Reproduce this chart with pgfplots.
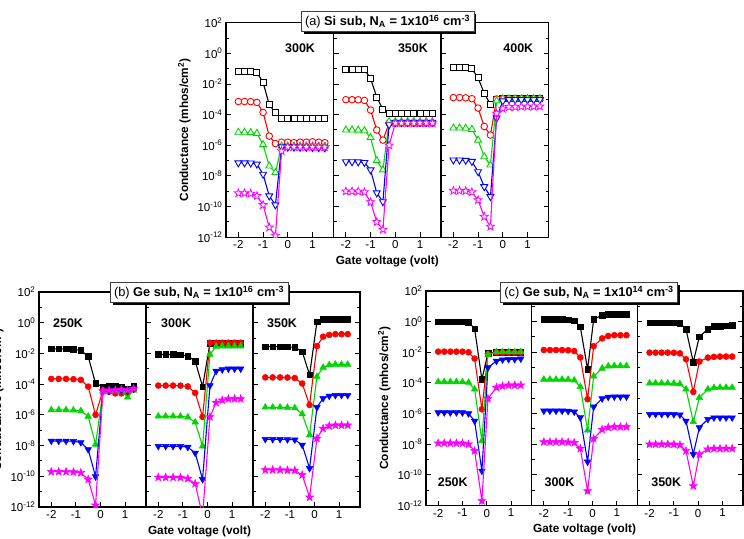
\documentclass[border=0pt]{standalone}
\usepackage{fontspec}
\setmainfont{Liberation Sans}
\usepackage{pgfplots}
\usepackage{pgfplotstable}
\pgfplotsset{compat=1.18}
\usetikzlibrary{shadows}

\definecolor{cRd}{RGB}{255,0,0}
\definecolor{cGr}{RGB}{0,215,0}
\definecolor{cBl}{RGB}{0,0,255}
\definecolor{cMg}{RGB}{255,0,255}

\newcommand\lblfont{\fontsize{11.8}{13}\selectfont\bfseries}
\newcommand\tickfont{\fontsize{11.5}{12}\selectfont}

% five-pointed outline star
\pgfdeclareplotmark{fivestar}{%
  \pgfpathmoveto{\pgfpointpolar{90}{\pgfplotmarksize}}%
  \pgfpathlineto{\pgfpointpolar{126}{0.42\pgfplotmarksize}}%
  \pgfpathlineto{\pgfpointpolar{162}{\pgfplotmarksize}}%
  \pgfpathlineto{\pgfpointpolar{198}{0.42\pgfplotmarksize}}%
  \pgfpathlineto{\pgfpointpolar{234}{\pgfplotmarksize}}%
  \pgfpathlineto{\pgfpointpolar{270}{0.42\pgfplotmarksize}}%
  \pgfpathlineto{\pgfpointpolar{306}{\pgfplotmarksize}}%
  \pgfpathlineto{\pgfpointpolar{342}{0.42\pgfplotmarksize}}%
  \pgfpathlineto{\pgfpointpolar{18}{\pgfplotmarksize}}%
  \pgfpathlineto{\pgfpointpolar{54}{0.42\pgfplotmarksize}}%
  \pgfpathclose
  \pgfusepathqfillstroke
}

% ---------------- data: conductance (mhos/cm^2) vs gate voltage (V)
% (a) Si substrate, N_A = 1e16
\pgfplotstableread{
x bk rd gr bl mg
-2 6.5e-2 7.2e-4 7.1e-6 7.2e-8 7.6e-10
-1.75 6.5e-2 7.2e-4 7.1e-6 7.2e-8 7.6e-10
-1.5 6.3e-2 7.1e-4 6.8e-6 7.0e-8 7.1e-10
-1.25 5.6e-2 6.3e-4 6.0e-6 6.0e-8 5.0e-10
-1 1.3e-2 1.4e-4 1.1e-6 1.3e-8 1.3e-10
-0.75 4.5e-4 4.0e-6 4.5e-8 5.0e-10 4.5e-12
-0.5 1.3e-4 1.3e-6 1.7e-8 1.3e-10 1.3e-12
-0.25 5.8e-5 1.6e-6 8.9e-7 7.9e-7 4.2e-7
0 5.8e-5 1.6e-6 8.9e-7 7.6e-7 7.9e-7
0.25 5.8e-5 1.5e-6 8.9e-7 7.6e-7 7.9e-7
0.5 5.8e-5 1.6e-6 8.9e-7 7.4e-7 7.9e-7
0.75 5.8e-5 1.6e-6 8.9e-7 7.4e-7 7.9e-7
1 5.8e-5 1.7e-6 8.9e-7 7.2e-7 7.9e-7
1.25 5.8e-5 1.6e-6 8.9e-7 7.0e-7 7.9e-7
1.5 5.8e-5 1.5e-6 8.9e-7 6.9e-7 7.6e-7
}\Aone
\pgfplotstableread{
x bk rd gr bl mg
-2 9.5e-2 9.5e-4 1.0e-5 8.5e-8 1.0e-9
-1.75 9.5e-2 9.5e-4 1.0e-5 8.5e-8 1.0e-9
-1.5 9.3e-2 9.3e-4 9.8e-6 8.3e-8 9.8e-10
-1.25 8.9e-2 8.5e-4 8.9e-6 7.6e-8 8.9e-10
-1 2.3e-2 2.0e-4 3.2e-6 2.5e-8 2.0e-10
-0.75 1.35e-3 1.0e-5 1.0e-7 7.9e-10 1.0e-11
-0.5 2.2e-4 2.2e-6 2.5e-8 2.1e-10 3.2e-12
-0.25 1.2e-4 2.8e-5 3.5e-5 2.2e-5 1.0e-6
0 1.2e-4 2.8e-5 3.5e-5 3.2e-5 2.8e-5
0.25 1.2e-4 2.8e-5 3.5e-5 3.2e-5 2.8e-5
0.5 1.2e-4 2.8e-5 3.5e-5 3.2e-5 2.8e-5
0.75 1.2e-4 2.8e-5 3.5e-5 3.2e-5 2.8e-5
1 1.2e-4 2.8e-5 3.5e-5 3.2e-5 2.8e-5
1.25 1.2e-4 2.8e-5 3.5e-5 3.2e-5 2.8e-5
1.5 1.2e-4 2.8e-5 3.5e-5 3.2e-5 2.8e-5
}\Atwo
\pgfplotstableread{
x bk rd gr bl mg
-2 1.23e-1 1.3e-3 1.35e-5 1.1e-7 1.1e-9
-1.75 1.23e-1 1.3e-3 1.35e-5 1.1e-7 1.1e-9
-1.5 1.2e-1 1.25e-3 1.3e-5 1.05e-7 1.05e-9
-1.25 1.0e-1 1.1e-3 1.1e-5 8.9e-8 8.9e-10
-1 2.5e-2 2.7e-4 2.2e-6 1.9e-8 2.7e-10
-0.75 2.5e-3 1.7e-5 1.8e-7 2.0e-9 2.2e-11
-0.5 4.5e-4 4.7e-6 5.2e-8 4.5e-10 5.0e-12
-0.25 1.0e-3 1.05e-3 7.9e-4 6.0e-5 1.2e-4
0 1.1e-3 1.1e-3 1.1e-3 7.9e-4 2.5e-4
0.25 1.1e-3 1.1e-3 1.1e-3 9.5e-4 3.2e-4
0.5 1.1e-3 1.1e-3 1.1e-3 9.5e-4 3.2e-4
0.75 1.1e-3 1.1e-3 1.1e-3 9.5e-4 3.4e-4
1 1.1e-3 1.1e-3 1.1e-3 9.5e-4 3.4e-4
1.25 1.1e-3 1.1e-3 1.1e-3 9.5e-4 3.4e-4
1.5 1.1e-3 1.1e-3 1.1e-3 9.5e-4 3.5e-4
}\Athree
% (b) Ge substrate, N_A = 1e16
\pgfplotstableread{
x bk rd gr bl mg
-2 2.0e-2 2.2e-4 2.1e-6 2.0e-8 2.0e-10
-1.7 2.0e-2 2.2e-4 2.1e-6 2.0e-8 2.0e-10
-1.4 2.0e-2 2.2e-4 2.1e-6 2.0e-8 2.0e-10
-1.1 1.8e-2 2.1e-4 2.0e-6 1.9e-8 1.9e-10
-0.8 1.6e-2 1.9e-4 1.8e-6 1.6e-8 1.7e-10
-0.5 6.3e-3 6.9e-5 7.9e-7 5.6e-9 6.3e-11
-0.2 1.1e-4 1.0e-6 1.2e-8 9.5e-11 1.3e-12
0.1 6.9e-5 4.0e-5 3.5e-5 3.5e-5 3.5e-5
0.35 7.0e-5 3.2e-5 3.5e-5 3.5e-5 4.0e-5
0.6 7.0e-5 2.5e-5 3.2e-5 4.0e-5 4.0e-5
0.85 6.5e-5 2.5e-5 3.5e-5 4.0e-5 4.5e-5
1.1 5.0e-5 2.8e-5 1.4e-5 3.5e-5 4.0e-5
1.35 8.0e-5 4.5e-5 4.0e-5 5.0e-5 5.0e-5
}\Bone
\pgfplotstableread{
x bk rd gr bl mg
-2 8.5e-3 8.1e-5 8.1e-7 9.1e-9 8.5e-11
-1.7 8.5e-3 8.1e-5 8.1e-7 9.1e-9 8.5e-11
-1.4 8.5e-3 8.1e-5 8.1e-7 9.1e-9 8.5e-11
-1.1 8.3e-3 8.0e-5 8.0e-7 9.0e-9 8.3e-11
-0.8 6.8e-3 7.1e-5 7.1e-7 7.9e-9 7.1e-11
-0.5 3.2e-3 2.7e-5 3.3e-7 3.3e-9 3.3e-11
-0.2 6.8e-5 7.4e-7 9.1e-9 6.3e-11 2.5e-13
0.1 4.5e-2 5.0e-2 8.5e-3 8.1e-5 7.4e-7
0.35 4.8e-2 5.0e-2 2.8e-2 7.1e-4 6.3e-6
0.6 4.8e-2 5.0e-2 3.0e-2 8.9e-4 8.9e-6
0.85 4.8e-2 5.0e-2 3.0e-2 1.0e-3 1.1e-5
1.1 4.8e-2 5.0e-2 3.0e-2 1.0e-3 1.1e-5
1.35 4.8e-2 5.0e-2 3.0e-2 1.0e-3 1.1e-5
}\Btwo
\pgfplotstableread{
x bk rd gr bl mg
-2 2.75e-2 2.75e-4 3.1e-6 2.6e-8 2.6e-10
-1.7 2.75e-2 2.75e-4 3.1e-6 2.6e-8 2.6e-10
-1.4 2.75e-2 2.75e-4 3.1e-6 2.6e-8 2.6e-10
-1.1 2.7e-2 2.7e-4 3.0e-6 2.5e-8 2.5e-10
-0.8 2.5e-2 2.5e-4 2.8e-6 2.4e-8 2.4e-10
-0.5 1.3e-2 1.1e-4 1.15e-6 1.1e-8 1.23e-10
-0.2 4.0e-4 4.4e-6 4.9e-8 3.3e-10 4.3e-12
0.1 1.17 3.0e-2 3.1e-4 3.1e-6 2.95e-8
0.35 1.66 1.23e-1 1.23e-3 1.2e-5 1.3e-7
0.6 1.66 1.6e-1 1.8e-3 1.7e-5 1.9e-7
0.85 1.66 1.8e-1 1.9e-3 1.9e-5 2.1e-7
1.1 1.66 1.8e-1 1.9e-3 1.9e-5 2.1e-7
1.35 1.66 1.8e-1 1.9e-3 1.9e-5 2.1e-7
}\Bthree
% (c) Ge substrate, N_A = 1e14
\pgfplotstableread{
x bk rd gr bl mg
-2 1.0 1.1e-2 1.17e-4 1.17e-6 1.17e-8
-1.75 1.0 1.1e-2 1.17e-4 1.17e-6 1.17e-8
-1.5 1.0 1.1e-2 1.17e-4 1.17e-6 1.17e-8
-1.25 1.0 1.1e-2 1.17e-4 1.17e-6 1.17e-8
-1 1.0 1.1e-2 1.15e-4 1.15e-6 1.15e-8
-0.75 0.9 1.0e-2 1.07e-4 1.0e-6 1.0e-8
-0.5 0.35 3.9e-3 3.9e-5 3.3e-7 3.7e-9
-0.2 1.7e-4 1.9e-6 1.66e-8 1.8e-10 2.0e-12
0.05 8.9e-3 7.9e-3 7.1e-3 1.0e-3 9.5e-6
0.4 1.0e-2 9.5e-3 1.05e-2 2.7e-3 5.0e-5
0.65 1.0e-2 9.5e-3 1.05e-2 3.3e-3 6.3e-5
0.9 1.0e-2 9.5e-3 1.05e-2 3.5e-3 7.1e-5
1.15 1.0e-2 9.5e-3 1.05e-2 3.5e-3 7.1e-5
1.4 1.0e-2 9.5e-3 1.05e-2 3.8e-3 7.1e-5
}\Cone
\pgfplotstableread{
x bk rd gr bl mg
-2 1.4 1.4e-2 1.7e-4 1.5e-6 1.4e-8
-1.75 1.4 1.4e-2 1.7e-4 1.5e-6 1.4e-8
-1.5 1.4 1.4e-2 1.7e-4 1.5e-6 1.4e-8
-1.25 1.4 1.4e-2 1.7e-4 1.5e-6 1.4e-8
-1 1.35 1.35e-2 1.65e-4 1.45e-6 1.35e-8
-0.75 1.15 1.2e-2 1.5e-4 1.3e-6 1.25e-8
-0.5 0.47 4.6e-3 5.6e-5 5.5e-7 5.2e-9
-0.2 7.6e-4 8.7e-6 8.3e-8 7.1e-10 8.9e-12
0.05 1.4 2.5e-2 2.75e-4 2.75e-6 2.3e-8
0.4 2.7 8.1e-2 8.9e-4 9.5e-6 9.1e-8
0.65 2.95 1.15e-1 1.25e-3 1.2e-5 1.25e-7
0.9 2.95 1.3e-1 1.3e-3 1.26e-5 1.35e-7
1.15 2.95 1.3e-1 1.3e-3 1.26e-5 1.35e-7
1.4 2.95 1.3e-1 1.3e-3 1.26e-5 1.35e-7
}\Ctwo
\pgfplotstableread{
x bk rd gr bl mg
-2 0.85 9.5e-3 9.5e-5 9.1e-7 1.0e-8
-1.75 0.85 9.5e-3 9.5e-5 9.1e-7 1.0e-8
-1.5 0.85 9.5e-3 9.5e-5 9.1e-7 1.0e-8
-1.25 0.85 9.5e-3 9.5e-5 9.1e-7 1.0e-8
-1 0.83 9.3e-3 9.3e-5 8.9e-7 9.8e-9
-0.75 0.8 8.5e-3 8.5e-5 8.3e-7 8.9e-9
-0.5 0.32 3.5e-3 3.9e-5 3.3e-7 3.7e-9
-0.2 2.3e-3 2.6e-5 2.9e-7 2.2e-9 1.9e-11
0.05 0.105 2.5e-3 1.1e-5 1.23e-7 2.2e-9
0.4 0.32 4.5e-3 3.9e-5 4.3e-7 4.7e-9
0.65 0.5 5.0e-3 4.8e-5 5.4e-7 5.2e-9
0.9 0.52 5.25e-3 5.0e-5 5.4e-7 5.2e-9
1.15 0.55 5.25e-3 5.0e-5 5.4e-7 5.2e-9
1.4 0.575 5.25e-3 5.0e-5 5.4e-7 5.2e-9
}\Cthree

% ---------------- styles
\pgfplotsset{
  /pgfplots/chartpanel/.style={
    scale only axis, width=107.5pt, height=214.6pt,
    ymin=1e-12, ymax=1e2, xmin=-2.5, xmax=1.85,
    xtick={-2,-1,0,1}, xticklabels={-2,-1,0,1},
    ytick={1e-12,1e-10,1e-8,1e-6,1e-4,1e-2,1,1e2},
    minor ytick={1e-11,1e-9,1e-7,1e-5,1e-3,1e-1,1e1},
    yticklabels={},
    tick align=inside, xtick pos=left, ytick pos=left,
    major tick length=5pt, minor tick length=3pt,
    every tick/.style={black, line width=1pt},
    axis line style={line width=1.3pt},
    tick label style={font=\tickfont},
    xlabel style={font=\lblfont},
    ylabel style={font=\lblfont},
    clip marker paths=true,
    every axis plot/.append style={line width=1.1pt},
  },
  /pgfplots/chartfirst/.style={
    yticklabels={10\textsuperscript{-12},10\textsuperscript{-10},10\textsuperscript{-8},10\textsuperscript{-6},10\textsuperscript{-4},10\textsuperscript{-2},10\textsuperscript{0},10\textsuperscript{2}},
    ylabel={Conductance (mhos/cm\textsuperscript{2})},
  },
  /pgfplots/chartlast/.style={ytick pos=both},
}
\tikzset{
  templbl/.style={font=\fontsize{12.5}{14}\selectfont\bfseries, inner sep=0pt},
  titlebox/.style={draw=black!75, line width=0.7pt, fill=white,
    inner xsep=4pt, inner ysep=3.5pt, font=\fontsize{12.8}{14}\selectfont,
    general shadow={fill=black, shadow xshift=2.5pt, shadow yshift=-2.5pt}},
}

\newcommand\opencurves[1]{%
  \addplot[black, mark=square*, mark size=3pt, mark options={fill=white, line width=0.9pt}] table[x=x,y=bk]{#1};
  \addplot[cRd, mark=*, mark size=3.3pt, mark options={fill=white, line width=0.9pt}] table[x=x,y=rd]{#1};
  \addplot[cGr, mark=triangle*, mark size=4pt, mark options={fill=white, line width=0.9pt}] table[x=x,y=gr]{#1};
  \addplot[cBl, mark=triangle*, mark size=4pt, mark options={fill=white, line width=0.9pt, rotate=180}] table[x=x,y=bl]{#1};
  \addplot[cMg, mark=fivestar, mark size=4.2pt, mark options={fill=white, line width=0.8pt}] table[x=x,y=mg]{#1};
}
\newcommand\solidcurves[1]{%
  \addplot[black, mark=square*, mark size=2.8pt, mark options={line width=0.5pt}] table[x=x,y=bk]{#1};
  \addplot[cRd, mark=*, mark size=3pt, mark options={line width=0.5pt}] table[x=x,y=rd]{#1};
  \addplot[cGr, mark=triangle*, mark size=3.8pt, mark options={line width=0.5pt}] table[x=x,y=gr]{#1};
  \addplot[cBl, mark=triangle*, mark size=3.8pt, mark options={line width=0.5pt, rotate=180}] table[x=x,y=bl]{#1};
  \addplot[cMg, mark=fivestar, mark size=4.2pt, mark options={line width=0.5pt}] table[x=x,y=mg]{#1};
}

\begin{document}
\begin{tikzpicture}
% ---------- (a) Si sub
\begin{axis}[ymode=log, chartpanel, chartfirst, at={(226pt,300.7pt)}, anchor=south west]
\opencurves{\Aone}
\node[templbl, anchor=east] at (rel axis cs:0.83,0.88) {300K};
\end{axis}
\begin{axis}[ymode=log, chartpanel, at={(333.5pt,300.7pt)}, anchor=south west, xlabel={Gate voltage (volt)}]
\opencurves{\Atwo}
\node[templbl, anchor=east] at (rel axis cs:0.88,0.88) {350K};
\end{axis}
\begin{axis}[ymode=log, chartpanel, chartlast, at={(441pt,300.7pt)}, anchor=south west]
\opencurves{\Athree}
\node[templbl, anchor=east] at (rel axis cs:0.86,0.88) {400K};
\end{axis}

% ---------- (b) Ge sub, 1e16
\begin{axis}[ymode=log, chartpanel, chartfirst, width=107pt, height=215pt, at={(39pt,31pt)}, anchor=south west]
\solidcurves{\Bone}
\node[templbl, anchor=west] at (rel axis cs:0.13,0.855) {250K};
\end{axis}
\begin{axis}[ymode=log, chartpanel, width=107pt, height=215pt, at={(146pt,31pt)}, anchor=south west, xlabel={Gate voltage (volt)}]
\solidcurves{\Btwo}
\node[templbl, anchor=west] at (rel axis cs:0.14,0.855) {300K};
\end{axis}
\begin{axis}[ymode=log, chartpanel, chartlast, width=107pt, height=215pt, at={(253pt,31pt)}, anchor=south west]
\solidcurves{\Bthree}
\node[templbl, anchor=west] at (rel axis cs:0.13,0.855) {350K};
\end{axis}

% ---------- (c) Ge sub, 1e14
\begin{axis}[ymode=log, chartpanel, chartfirst, width=105.7pt, height=214.5pt, at={(426pt,32.5pt)}, anchor=south west]
\solidcurves{\Cone}
\node[templbl, anchor=west] at (rel axis cs:0.11,0.11) {250K};
\end{axis}
\begin{axis}[ymode=log, chartpanel, width=105.7pt, height=214.5pt, at={(531.7pt,32.5pt)}, anchor=south west, xlabel={Gate voltage (volt)}]
\solidcurves{\Ctwo}
\node[templbl, anchor=west] at (rel axis cs:0.12,0.11) {300K};
\end{axis}
\begin{axis}[ymode=log, chartpanel, chartlast, width=105.7pt, height=214.5pt, at={(637.4pt,32.5pt)}, anchor=south west]
\solidcurves{\Cthree}
\node[templbl, anchor=west] at (rel axis cs:0.13,0.11) {350K};
\end{axis}

% ---------- panel titles
\node[titlebox] at (387.5pt,516.5pt) {(a) \textbf{Si sub, N\textsubscript{A} = 1x10\textsuperscript{16} cm\textsuperscript{-3}}};
\node[titlebox] at (199pt,245.5pt) {(b) \textbf{Ge sub, N\textsubscript{A} = 1x10\textsuperscript{16} cm\textsuperscript{-3}}};
\node[titlebox] at (589pt,245.5pt) {(c) \textbf{Ge sub, N\textsubscript{A} = 1x10\textsuperscript{14} cm\textsuperscript{-3}}};

\pgfresetboundingbox
\path[use as bounding box] (0pt,0pt) rectangle (744pt,538pt);
\end{tikzpicture}
\end{document}
